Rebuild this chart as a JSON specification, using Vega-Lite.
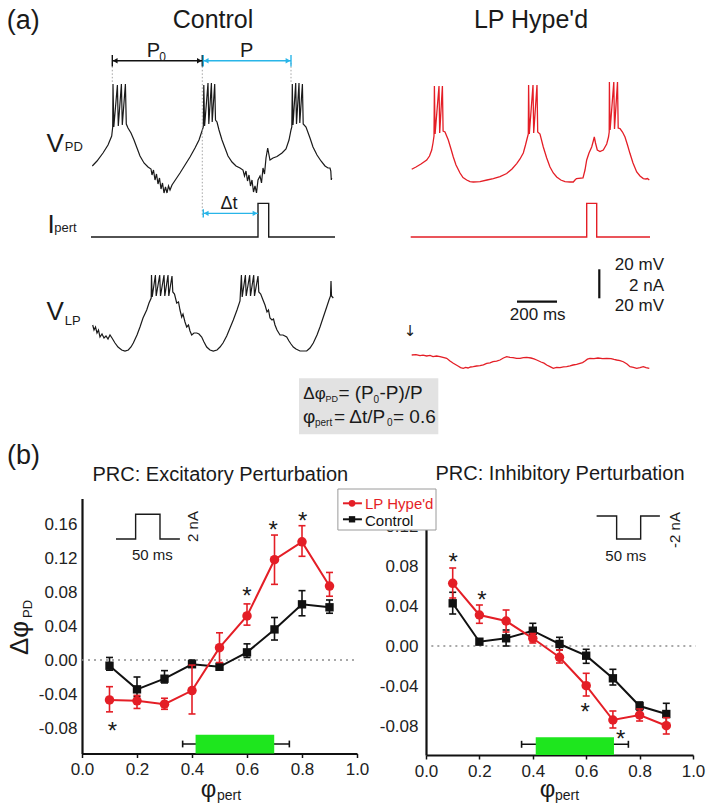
{
"$schema": "https://vega.github.io/schema/vega-lite/v6.json",
"width": 714, "height": 811, "autosize": "none", "padding": 0, "background": "white",
"config": {"view": {"stroke": null}, "locale": {"number": {"decimal": ".", "thousands": ",", "grouping": [3], "currency": ["$", ""], "minus": "-"}}, "text": {"font": "Liberation Sans", "color": "#1a1a1a"}},
"datasets": {
"vpdC": [{"t":1.5,"v":-57.2},{"t":25,"v":-53.7},{"t":55,"v":-48.1},{"t":80,"v":-42.5},{"t":98.5,"v":-36.2},{"t":103.5,"v":-29.9},{"t":105,"v":0.2},{"t":109,"v":-29.9},{"t":127,"v":-0.5},{"t":131.5,"v":-29.2},{"t":147,"v":0.2},{"t":151.5,"v":-28.5},{"t":167,"v":0.2},{"t":171.5,"v":-27.8},{"t":180,"v":-30.6},{"t":195,"v":-34.1},{"t":210,"v":-39},{"t":225,"v":-44.6},{"t":240,"v":-50.2},{"t":260,"v":-55.1},{"t":280,"v":-57.9},{"t":295,"v":-59.3},{"t":300,"v":-63.5},{"t":307.5,"v":-60},{"t":315,"v":-67},{"t":322.5,"v":-62.8},{"t":330,"v":-69.8},{"t":337.5,"v":-65.6},{"t":345,"v":-73.3},{"t":352.5,"v":-69.1},{"t":360,"v":-76.1},{"t":367.5,"v":-71.9},{"t":375,"v":-76.1},{"t":382.5,"v":-71.2},{"t":390,"v":-74},{"t":400,"v":-70.5},{"t":420,"v":-66.3},{"t":440,"v":-62.1},{"t":465,"v":-56.5},{"t":490,"v":-50.9},{"t":515,"v":-44.6},{"t":535,"v":-39},{"t":550,"v":-32.7},{"t":556.5,"v":-29.9},{"t":559,"v":-0.5},{"t":563,"v":-29.2},{"t":580,"v":0.9},{"t":584,"v":-27.8},{"t":597,"v":0.9},{"t":601,"v":-26.4},{"t":613.5,"v":0.2},{"t":617.5,"v":-25},{"t":625,"v":-26.4},{"t":635,"v":-32},{"t":650,"v":-39},{"t":665,"v":-44.6},{"t":680,"v":-50.2},{"t":700,"v":-54.4},{"t":720,"v":-57.2},{"t":740,"v":-58.6},{"t":755,"v":-60},{"t":762.5,"v":-64.2},{"t":770,"v":-60.7},{"t":777.5,"v":-67.7},{"t":785,"v":-63.5},{"t":792.5,"v":-71.2},{"t":800,"v":-67},{"t":807.5,"v":-75.4},{"t":815,"v":-71.2},{"t":822.5,"v":-76.1},{"t":830,"v":-67},{"t":840,"v":-64.2},{"t":847.5,"v":-69.1},{"t":855,"v":-58.6},{"t":862.5,"v":-62.8},{"t":870,"v":-51.6},{"t":878.5,"v":-44.6},{"t":885,"v":-49.5},{"t":890,"v":-53},{"t":905,"v":-51.6},{"t":925,"v":-50.6},{"t":950,"v":-48.1},{"t":970,"v":-45.3},{"t":985,"v":-39},{"t":995,"v":-32},{"t":999,"v":-29.9},{"t":1001.5,"v":0.2},{"t":1005,"v":-28.5},{"t":1018.5,"v":0.9},{"t":1022.5,"v":-27.8},{"t":1035,"v":0.9},{"t":1039,"v":-27.1},{"t":1052,"v":0.2},{"t":1056,"v":-27.8},{"t":1070,"v":-29.9},{"t":1090,"v":-37.6},{"t":1105,"v":-43.9},{"t":1125,"v":-49.5},{"t":1145,"v":-53.7},{"t":1165,"v":-57.2},{"t":1180,"v":-58.6},{"t":1190,"v":-58.6},{"t":1194,"v":-60.7},{"t":1196.5,"v":-67},{"t":1198.5,"v":-65.6}],
"vpdL": [{"t":3.5,"v":-59.5},{"t":25,"v":-57.9},{"t":50,"v":-55.8},{"t":78.5,"v":-53},{"t":92.5,"v":-50.2},{"t":103.5,"v":-46},{"t":110,"v":-41.1},{"t":115,"v":-36.2},{"t":117,"v":-1.2},{"t":120.5,"v":-34.8},{"t":140,"v":-1.2},{"t":143.5,"v":-34.1},{"t":157,"v":-1.2},{"t":160.5,"v":-32.7},{"t":170,"v":-33.4},{"t":186.5,"v":-39},{"t":200,"v":-45.3},{"t":211.5,"v":-50.9},{"t":225,"v":-56.5},{"t":245,"v":-62.1},{"t":260,"v":-65.3},{"t":278.5,"v":-67},{"t":295,"v":-68.1},{"t":311.5,"v":-68.4},{"t":345,"v":-68.1},{"t":380,"v":-67},{"t":411.5,"v":-66},{"t":445,"v":-64.6},{"t":478.5,"v":-62.5},{"t":505,"v":-59.3},{"t":528.5,"v":-55.5},{"t":545,"v":-52.3},{"t":561.5,"v":-48.1},{"t":572.5,"v":-42.5},{"t":580,"v":-38.3},{"t":586.5,"v":-34.8},{"t":588,"v":-0.5},{"t":591.5,"v":-34.8},{"t":610,"v":-0.5},{"t":613.5,"v":-34.1},{"t":630,"v":-0.5},{"t":633.5,"v":-33.4},{"t":645,"v":-34.8},{"t":661.5,"v":-43.9},{"t":678.5,"v":-51.6},{"t":695,"v":-57.9},{"t":711.5,"v":-62.1},{"t":728.5,"v":-64.9},{"t":749,"v":-67},{"t":770,"v":-68.1},{"t":795,"v":-68.4},{"t":811.5,"v":-68.4},{"t":820,"v":-67},{"t":827.5,"v":-66},{"t":860,"v":-65.6},{"t":870,"v":-60},{"t":878.5,"v":-53},{"t":890,"v":-48.1},{"t":903.5,"v":-43.9},{"t":911.5,"v":-39.7},{"t":916.5,"v":-36.9},{"t":922.5,"v":-41.1},{"t":931.5,"v":-46},{"t":945,"v":-47.1},{"t":961.5,"v":-46},{"t":978.5,"v":-41.8},{"t":987.5,"v":-36.9},{"t":991,"v":-33.4},{"t":992,"v":1.6},{"t":995.5,"v":-32},{"t":1014,"v":1.6},{"t":1017.5,"v":-31.3},{"t":1032.5,"v":1.6},{"t":1036,"v":-30.6},{"t":1045,"v":-31},{"t":1057.5,"v":-33.4},{"t":1070,"v":-36.9},{"t":1082.5,"v":-42.5},{"t":1095,"v":-48.5},{"t":1110,"v":-55.1},{"t":1128.5,"v":-61.4},{"t":1145,"v":-64.2},{"t":1161.5,"v":-66},{"t":1175,"v":-66.3},{"t":1182.5,"v":-66},{"t":1191.5,"v":-67}],
"iC": [{"k":1,"t":-5,"i":0},{"k":2,"t":830,"i":0},{"k":3,"t":830,"i":2.32},{"k":4,"t":883.5,"i":2.32},{"k":5,"t":883.5,"i":0},{"k":6,"t":1215,"i":0}],
"iL": [{"k":1,"t":-1.5,"i":0},{"k":2,"t":878.5,"i":0},{"k":3,"t":878.5,"i":2.32},{"k":4,"t":928.5,"i":2.32},{"k":5,"t":928.5,"i":0},{"k":6,"t":1195,"i":0}],
"vlpC": [{"t":3.5,"v":-49.5},{"t":10,"v":-53},{"t":17.5,"v":-50.9},{"t":25,"v":-55.1},{"t":32.5,"v":-53},{"t":40,"v":-57.9},{"t":50,"v":-55.8},{"t":60,"v":-58.6},{"t":70,"v":-57.2},{"t":80,"v":-59.3},{"t":90,"v":-56.5},{"t":100,"v":-58.6},{"t":115,"v":-62.1},{"t":130,"v":-64.9},{"t":148.5,"v":-67},{"t":165,"v":-67.7},{"t":181.5,"v":-67},{"t":195,"v":-64.9},{"t":206.5,"v":-62.1},{"t":225,"v":-56.5},{"t":240,"v":-50.9},{"t":255,"v":-44.6},{"t":273.5,"v":-39},{"t":285,"v":-34.1},{"t":296,"v":-30.6},{"t":297.5,"v":-14.5},{"t":301,"v":-29.9},{"t":317,"v":-14.5},{"t":321,"v":-29.2},{"t":338.5,"v":-14.5},{"t":342.5,"v":-29.2},{"t":360,"v":-14.5},{"t":364,"v":-29.2},{"t":380,"v":-14.5},{"t":384,"v":-29.2},{"t":400,"v":-15.2},{"t":404,"v":-26.4},{"t":412.5,"v":-27.8},{"t":423.5,"v":-34.1},{"t":432.5,"v":-33.4},{"t":440,"v":-39},{"t":448.5,"v":-43.9},{"t":455,"v":-41.8},{"t":465,"v":-47.4},{"t":473.5,"v":-50.9},{"t":482.5,"v":-49.5},{"t":490,"v":-53.7},{"t":498.5,"v":-56.5},{"t":510,"v":-55.1},{"t":523.5,"v":-55.1},{"t":535,"v":-55.8},{"t":548.5,"v":-57.9},{"t":560,"v":-61.4},{"t":573.5,"v":-64.9},{"t":590,"v":-67},{"t":606.5,"v":-67.7},{"t":625,"v":-67},{"t":640,"v":-64.9},{"t":655,"v":-62.1},{"t":673.5,"v":-57.2},{"t":690,"v":-51.6},{"t":706.5,"v":-46},{"t":725,"v":-39},{"t":740,"v":-32.7},{"t":747,"v":-14.5},{"t":751,"v":-29.9},{"t":767,"v":-14.5},{"t":771,"v":-29.2},{"t":788.5,"v":-14.5},{"t":792.5,"v":-29.2},{"t":808.5,"v":-14.5},{"t":812.5,"v":-29.2},{"t":830,"v":-15.2},{"t":834,"v":-26.4},{"t":843.5,"v":-27.8},{"t":855,"v":-32},{"t":865,"v":-35.5},{"t":875,"v":-40.4},{"t":882.5,"v":-39},{"t":890,"v":-44.6},{"t":900,"v":-46},{"t":907.5,"v":-45.3},{"t":915,"v":-49.5},{"t":925,"v":-53},{"t":940,"v":-56.5},{"t":955,"v":-56.5},{"t":973.5,"v":-57.9},{"t":985,"v":-60.7},{"t":995,"v":-62.8},{"t":1006.5,"v":-64.9},{"t":1020,"v":-66.3},{"t":1040,"v":-67.7},{"t":1073.5,"v":-67.7},{"t":1090,"v":-65.6},{"t":1106.5,"v":-62.1},{"t":1125,"v":-56.5},{"t":1140,"v":-50.9},{"t":1155,"v":-44.6},{"t":1173.5,"v":-36.9},{"t":1185,"v":-32},{"t":1192.5,"v":-29.2},{"t":1195,"v":-18.7},{"t":1197.5,"v":-29.2},{"t":1206.5,"v":-30.6}],
"vlpL": [{"t":3.5,"v":-70.5},{"t":25,"v":-70.2},{"t":45,"v":-70.9},{"t":60,"v":-70.6},{"t":78.5,"v":-71.2},{"t":95,"v":-70.8},{"t":110,"v":-71.6},{"t":128,"v":-71.2},{"t":145,"v":-71.7},{"t":160,"v":-72.2},{"t":178.5,"v":-72.8},{"t":195,"v":-74.7},{"t":211.5,"v":-76.3},{"t":235,"v":-78.2},{"t":248,"v":-79.3},{"t":261.5,"v":-79.8},{"t":273,"v":-79.2},{"t":285,"v":-79.6},{"t":298,"v":-78.9},{"t":311.5,"v":-78.7},{"t":328,"v":-78.2},{"t":345,"v":-77.9},{"t":362,"v":-77.4},{"t":378.5,"v":-76.3},{"t":395,"v":-76},{"t":410,"v":-75.1},{"t":428,"v":-74.8},{"t":445,"v":-74},{"t":462,"v":-72.6},{"t":478.5,"v":-71.7},{"t":495,"v":-72.2},{"t":510,"v":-72.3},{"t":528,"v":-72.9},{"t":545,"v":-72.8},{"t":562,"v":-72.4},{"t":578.5,"v":-72.1},{"t":600,"v":-72.6},{"t":615,"v":-73.2},{"t":628.5,"v":-74},{"t":650,"v":-75.4},{"t":665,"v":-76.2},{"t":678.5,"v":-77.5},{"t":695,"v":-78.6},{"t":711.5,"v":-79.8},{"t":728,"v":-79.2},{"t":745,"v":-79.3},{"t":762,"v":-78.8},{"t":778.5,"v":-78.7},{"t":795,"v":-78.1},{"t":810,"v":-77.5},{"t":828,"v":-77},{"t":845,"v":-76.3},{"t":858,"v":-75.8},{"t":870,"v":-74.7},{"t":882,"v":-73.4},{"t":895,"v":-72.8},{"t":915,"v":-73.1},{"t":935,"v":-72.6},{"t":958,"v":-73.1},{"t":978.5,"v":-72.8},{"t":1000,"v":-73},{"t":1015,"v":-73.6},{"t":1028.5,"v":-74},{"t":1045,"v":-74.4},{"t":1061.5,"v":-75.2},{"t":1080,"v":-76.8},{"t":1095,"v":-78.7},{"t":1112,"v":-79.1},{"t":1128.5,"v":-79.8},{"t":1145,"v":-79.3},{"t":1161.5,"v":-78.7},{"t":1175,"v":-79.3},{"t":1191.5,"v":-79.8}],
"exc": [{"g":"LP","phi":0.1,"d":-0.047},{"g":"LP","phi":0.2,"d":-0.048},{"g":"LP","phi":0.3,"d":-0.052},{"g":"LP","phi":0.4,"d":-0.036},{"g":"LP","phi":0.5,"d":0.0145},{"g":"LP","phi":0.6,"d":0.0518},{"g":"LP","phi":0.7,"d":0.118},{"g":"LP","phi":0.8,"d":0.139},{"g":"LP","phi":0.9,"d":0.087},
{"g":"C","phi":0.1,"d":-0.0067},{"g":"C","phi":0.2,"d":-0.0345},{"g":"C","phi":0.3,"d":-0.022},{"g":"C","phi":0.4,"d":-0.005},{"g":"C","phi":0.5,"d":-0.008},{"g":"C","phi":0.6,"d":0.009},{"g":"C","phi":0.7,"d":0.036},{"g":"C","phi":0.8,"d":0.0655},{"g":"C","phi":0.9,"d":0.062}],
"excErr": [{"g":"LP","id":1,"phi":0.1,"d":-0.061},{"g":"LP","id":1,"phi":0.1,"d":-0.0314},{"g":"LP","id":2,"phi":0.2,"d":-0.057},{"g":"LP","id":2,"phi":0.2,"d":-0.0416},{"g":"LP","id":3,"phi":0.3,"d":-0.058},{"g":"LP","id":3,"phi":0.3,"d":-0.045},{"g":"LP","id":4,"phi":0.4,"d":-0.0635},{"g":"LP","id":4,"phi":0.4,"d":-0.006},{"g":"LP","id":5,"phi":0.5,"d":-0.003},{"g":"LP","id":5,"phi":0.5,"d":0.032},{"g":"LP","id":6,"phi":0.6,"d":0.041},{"g":"LP","id":6,"phi":0.6,"d":0.066},{"g":"LP","id":7,"phi":0.7,"d":0.089},{"g":"LP","id":7,"phi":0.7,"d":0.147},{"g":"LP","id":8,"phi":0.8,"d":0.122},{"g":"LP","id":8,"phi":0.8,"d":0.158},{"g":"LP","id":9,"phi":0.9,"d":0.075},{"g":"LP","id":9,"phi":0.9,"d":0.103},
{"g":"C","id":11,"phi":0.1,"d":-0.012},{"g":"C","id":11,"phi":0.1,"d":0.003},{"g":"C","id":12,"phi":0.2,"d":-0.043},{"g":"C","id":12,"phi":0.2,"d":-0.02},{"g":"C","id":13,"phi":0.3,"d":-0.027},{"g":"C","id":13,"phi":0.3,"d":-0.0125},{"g":"C","id":14,"phi":0.4,"d":-0.008},{"g":"C","id":14,"phi":0.4,"d":0.0},{"g":"C","id":15,"phi":0.5,"d":-0.011},{"g":"C","id":15,"phi":0.5,"d":-0.005},{"g":"C","id":16,"phi":0.6,"d":0.003},{"g":"C","id":16,"phi":0.6,"d":0.019},{"g":"C","id":17,"phi":0.7,"d":0.0235},{"g":"C","id":17,"phi":0.7,"d":0.05},{"g":"C","id":18,"phi":0.8,"d":0.052},{"g":"C","id":18,"phi":0.8,"d":0.0816},{"g":"C","id":19,"phi":0.9,"d":0.055},{"g":"C","id":19,"phi":0.9,"d":0.0706}],
"inh": [{"g":"LP","phi":0.1,"d":0.0627},{"g":"LP","phi":0.2,"d":0.031},{"g":"LP","phi":0.3,"d":0.025},{"g":"LP","phi":0.4,"d":0.0077},{"g":"LP","phi":0.5,"d":-0.0113},{"g":"LP","phi":0.6,"d":-0.0397},{"g":"LP","phi":0.7,"d":-0.074},{"g":"LP","phi":0.8,"d":-0.069},{"g":"LP","phi":0.9,"d":-0.0797},
{"g":"C","phi":0.1,"d":0.0427},{"g":"C","phi":0.2,"d":0.0043},{"g":"C","phi":0.3,"d":0.0077},{"g":"C","phi":0.4,"d":0.0153},{"g":"C","phi":0.5,"d":0.002},{"g":"C","phi":0.6,"d":-0.0097},{"g":"C","phi":0.7,"d":-0.0323},{"g":"C","phi":0.8,"d":-0.06},{"g":"C","phi":0.9,"d":-0.068}],
"inhErr": [{"g":"LP","id":1,"phi":0.1,"d":0.048},{"g":"LP","id":1,"phi":0.1,"d":0.078},{"g":"LP","id":2,"phi":0.2,"d":0.0227},{"g":"LP","id":2,"phi":0.2,"d":0.041},{"g":"LP","id":3,"phi":0.3,"d":0.014},{"g":"LP","id":3,"phi":0.3,"d":0.036},{"g":"LP","id":4,"phi":0.4,"d":0.003},{"g":"LP","id":4,"phi":0.4,"d":0.0125},{"g":"LP","id":5,"phi":0.5,"d":-0.017},{"g":"LP","id":5,"phi":0.5,"d":-0.004},{"g":"LP","id":6,"phi":0.6,"d":-0.05},{"g":"LP","id":6,"phi":0.6,"d":-0.0273},{"g":"LP","id":7,"phi":0.7,"d":-0.082},{"g":"LP","id":7,"phi":0.7,"d":-0.065},{"g":"LP","id":8,"phi":0.8,"d":-0.075},{"g":"LP","id":8,"phi":0.8,"d":-0.063},{"g":"LP","id":9,"phi":0.9,"d":-0.088},{"g":"LP","id":9,"phi":0.9,"d":-0.0717},
{"g":"C","id":11,"phi":0.1,"d":0.032},{"g":"C","id":11,"phi":0.1,"d":0.0537},{"g":"C","id":12,"phi":0.2,"d":0.002},{"g":"C","id":12,"phi":0.2,"d":0.0065},{"g":"C","id":13,"phi":0.3,"d":0.0},{"g":"C","id":13,"phi":0.3,"d":0.016},{"g":"C","id":14,"phi":0.4,"d":0.0077},{"g":"C","id":14,"phi":0.4,"d":0.0227},{"g":"C","id":15,"phi":0.5,"d":-0.004},{"g":"C","id":15,"phi":0.5,"d":0.0087},{"g":"C","id":16,"phi":0.6,"d":-0.0173},{"g":"C","id":16,"phi":0.6,"d":-0.0033},{"g":"C","id":17,"phi":0.7,"d":-0.039},{"g":"C","id":17,"phi":0.7,"d":-0.0233},{"g":"C","id":18,"phi":0.8,"d":-0.064},{"g":"C","id":18,"phi":0.8,"d":-0.056},{"g":"C","id":19,"phi":0.9,"d":-0.079},{"g":"C","id":19,"phi":0.9,"d":-0.0573}]
},
"layer": [
{
"encoding": {
"x": {"field":"t","type":"quantitative","scale":{"domain":[0,1500],"range":[92,392],"zero":false,"nice":false},"axis":null},
"y": {"field":"v","type":"quantitative","scale":{"domain":[-80,10],"range":[198.57,70],"zero":false,"nice":false},"axis":null}
},
"layer": [
{"data":{"name":"vpdC"},"mark":{"type":"line","color":"#1a1a1a","strokeWidth":1.2},"encoding":{}},
{"data":{"values":[{"t":101.5,"t2":101.5,"v":15,"v2":1},{"t":551.5,"t2":551.5,"v":15,"v2":-93},{"t":995,"t2":995,"v":15,"v2":1}]},"mark":{"type":"rule","color":"#9a9a9a","strokeWidth":0.9,"strokeDash":[1.5,2]},"encoding":{"x2":{"field":"t2"},"y2":{"field":"v2"}}},
{"data":{"values":[{"t":101.5,"t2":551.5,"v":16.5,"v2":16.5},{"t":101.5,"t2":101.5,"v":20.5,"v2":12.5},{"t":551.5,"t2":551.5,"v":20.5,"v2":12.5}]},"mark":{"type":"rule","color":"#111111","strokeWidth":1.4},"encoding":{"x2":{"field":"t2"},"y2":{"field":"v2"}}},
{"data":{"values":[{"t":556.5,"t2":995,"v":16.5,"v2":16.5},{"t":556.5,"t2":556.5,"v":20.5,"v2":12.5},{"t":995,"t2":995,"v":20.5,"v2":12.5}]},"mark":{"type":"rule","color":"#29b5e8","strokeWidth":1.4},"encoding":{"x2":{"field":"t2"},"y2":{"field":"v2"}}},
{"data":{"values":[{"t":116,"v":16.5}]},"mark":{"type":"point","shape":"triangle-left","filled":true,"size":30,"color":"#111111","opacity":1},"encoding":{}},
{"data":{"values":[{"t":537,"v":16.5}]},"mark":{"type":"point","shape":"triangle-right","filled":true,"size":30,"color":"#111111","opacity":1},"encoding":{}},
{"data":{"values":[{"t":571,"v":16.5}]},"mark":{"type":"point","shape":"triangle-left","filled":true,"size":30,"color":"#29b5e8","opacity":1},"encoding":{}},
{"data":{"values":[{"t":980,"v":16.5}]},"mark":{"type":"point","shape":"triangle-right","filled":true,"size":30,"color":"#29b5e8","opacity":1},"encoding":{}},
{"data":{"values":[{"t":-426.5,"v":38.5,"s":"(a)"}]},"mark":{"type":"text","fontSize":27,"align":"left","baseline":"alphabetic"},"encoding":{"text":{"field":"s"}}},
{"data":{"values":[{"t":605,"v":39.4,"s":"Control"}]},"mark":{"type":"text","fontSize":25,"align":"center","baseline":"alphabetic"},"encoding":{"text":{"field":"s"}}},
{"data":{"values":[{"t":273.5,"v":19.3,"s":"P"},{"t":740,"v":19.3,"s":"P"}]},"mark":{"type":"text","fontSize":20,"align":"left","baseline":"alphabetic"},"encoding":{"text":{"field":"s"}}},
{"data":{"values":[{"t":336.5,"v":16.3,"s":"0"}]},"mark":{"type":"text","fontSize":12,"align":"left","baseline":"alphabetic"},"encoding":{"text":{"field":"s"}}},
{"data":{"values":[{"t":-228,"v":-47.2,"s":"V"}]},"mark":{"type":"text","fontSize":26,"align":"left","baseline":"alphabetic"},"encoding":{"text":{"field":"s"}}},
{"data":{"values":[{"t":-136,"v":-46.7,"s":"PD"}]},"mark":{"type":"text","fontSize":13,"align":"left","baseline":"alphabetic"},"encoding":{"text":{"field":"s"}}}
]
},
{
"encoding": {
"x": {"field":"t","type":"quantitative","scale":{"domain":[0,1500],"range":[411,711],"zero":false,"nice":false},"axis":null},
"y": {"field":"v","type":"quantitative","scale":{"domain":[-80,10],"range":[198.57,70],"zero":false,"nice":false},"axis":null}
},
"layer": [
{"data":{"name":"vpdL"},"mark":{"type":"line","color":"#e41e26","strokeWidth":1.3},"encoding":{}},
{"data":{"values":[{"t":600,"v":39.2,"s":"LP Hype'd"}]},"mark":{"type":"text","fontSize":25,"align":"center","baseline":"alphabetic"},"encoding":{"text":{"field":"s"}}}
]
},
{
"encoding": {
"x": {"field":"t","type":"quantitative","scale":{"domain":[0,1500],"range":[92,392],"zero":false,"nice":false},"axis":null},
"y": {"field":"i","type":"quantitative","scale":{"domain":[0,2],"range":[237,208],"zero":false,"nice":false},"axis":null}
},
"layer": [
{"data":{"name":"iC"},"mark":{"type":"line","color":"#1a1a1a","strokeWidth":1.4},"encoding":{"order":{"field":"k","type":"quantitative"}}},
{"data":{"values":[{"t":556.5,"t2":830,"i":1.63,"i2":1.63},{"t":556.5,"t2":556.5,"i":1.35,"i2":1.91}]},"mark":{"type":"rule","color":"#29b5e8","strokeWidth":1.4},"encoding":{"x2":{"field":"t2"},"y2":{"field":"i2"}}},
{"data":{"values":[{"t":571,"i":1.63}]},"mark":{"type":"point","shape":"triangle-left","filled":true,"size":30,"color":"#29b5e8","opacity":1},"encoding":{}},
{"data":{"values":[{"t":815,"i":1.63}]},"mark":{"type":"point","shape":"triangle-right","filled":true,"size":30,"color":"#29b5e8","opacity":1},"encoding":{}},
{"data":{"values":[{"t":685,"i":1.91,"s":"Δt"}]},"mark":{"type":"text","fontSize":18,"align":"center","baseline":"alphabetic"},"encoding":{"text":{"field":"s"}}},
{"data":{"values":[{"t":-222,"i":0.255,"s":"I"}]},"mark":{"type":"text","fontSize":26,"align":"left","baseline":"alphabetic"},"encoding":{"text":{"field":"s"}}},
{"data":{"values":[{"t":-188.5,"i":0.345,"s":"pert"}]},"mark":{"type":"text","fontSize":13,"align":"left","baseline":"alphabetic"},"encoding":{"text":{"field":"s"}}}
]
},
{
"encoding": {
"x": {"field":"t","type":"quantitative","scale":{"domain":[0,1500],"range":[411,711],"zero":false,"nice":false},"axis":null},
"y": {"field":"i","type":"quantitative","scale":{"domain":[0,2],"range":[237,208],"zero":false,"nice":false},"axis":null}
},
"layer": [
{"data":{"name":"iL"},"mark":{"type":"line","color":"#e41e26","strokeWidth":1.4},"encoding":{"order":{"field":"k","type":"quantitative"}}}
]
},
{
"encoding": {
"x": {"field":"t","type":"quantitative","scale":{"domain":[0,1500],"range":[92,392],"zero":false,"nice":false},"axis":null},
"y": {"field":"v","type":"quantitative","scale":{"domain":[-90,0],"range":[382.86,254.29],"zero":false,"nice":false},"axis":null}
},
"layer": [
{"data":{"name":"vlpC"},"mark":{"type":"line","color":"#1a1a1a","strokeWidth":1.2},"encoding":{}},
{"data":{"values":[{"t":-228,"v":-46,"s":"V"}]},"mark":{"type":"text","fontSize":26,"align":"left","baseline":"alphabetic"},"encoding":{"text":{"field":"s"}}},
{"data":{"values":[{"t":-136,"v":-49.5,"s":"LP"}]},"mark":{"type":"text","fontSize":13,"align":"left","baseline":"alphabetic"},"encoding":{"text":{"field":"s"}}},
{"data":{"values":[{"t":1035,"t2":1731.5,"v":-86.8,"v2":-126}]},"mark":{"type":"rect","color":"#e2e2e2"},"encoding":{"x2":{"field":"t2"},"y2":{"field":"v2"}}},
{"data":{"values":[{"t":1056.5,"v":-101.5,"s":"Δφ"}]},"mark":{"type":"text","fontSize":17,"align":"left","baseline":"alphabetic"},"encoding":{"text":{"field":"s"}}},
{"data":{"values":[{"t":1232,"v":-101.5,"s":"= (P"},{"t":1437.5,"v":-101.5,"s":"-P)/P"},{"t":1055,"v":-117.9,"s":"φ"},{"t":1210,"v":-117.9,"s":"= Δt/P"},{"t":1505,"v":-117.9,"s":"= 0.6"}]},"mark":{"type":"text","fontSize":19,"align":"left","baseline":"alphabetic"},"encoding":{"text":{"field":"s"}}},
{"data":{"values":[{"t":1168,"v":-103.4,"s":"PD"}]},"mark":{"type":"text","fontSize":9,"align":"left","baseline":"alphabetic"},"encoding":{"text":{"field":"s"}}},
{"data":{"values":[{"t":1407.5,"v":-104.1,"s":"0"},{"t":1115,"v":-119.9,"s":"pert"},{"t":1475,"v":-119.9,"s":"0"}]},"mark":{"type":"text","fontSize":10,"align":"left","baseline":"alphabetic"},"encoding":{"text":{"field":"s"}}}
]
},
{
"encoding": {
"x": {"field":"t","type":"quantitative","scale":{"domain":[0,1500],"range":[411,711],"zero":false,"nice":false},"axis":null},
"y": {"field":"v","type":"quantitative","scale":{"domain":[-90,0],"range":[382.86,254.29],"zero":false,"nice":false},"axis":null}
},
"layer": [
{"data":{"name":"vlpL"},"mark":{"type":"line","color":"#e41e26","strokeWidth":1.3},"encoding":{}},
{"data":{"values":[{"t":941.5,"t2":941.5,"v":-10.5,"v2":-30.8},{"t":530,"t2":730,"v":-33.2,"v2":-33.2}]},"mark":{"type":"rule","color":"#111111","strokeWidth":2.2},"encoding":{"x2":{"field":"t2"},"y2":{"field":"v2"}}},
{"data":{"values":[{"t":1265,"v":-11,"s":"20 mV"},{"t":1265,"v":-25.5,"s":"2 nA"},{"t":1265,"v":-39.7,"s":"20 mV"}]},"mark":{"type":"text","fontSize":17,"align":"right","baseline":"alphabetic"},"encoding":{"text":{"field":"s"}}},
{"data":{"values":[{"t":633.5,"v":-46,"s":"200 ms"}]},"mark":{"type":"text","fontSize":17,"align":"center","baseline":"alphabetic"},"encoding":{"text":{"field":"s"}}},
{"data":{"values":[{"t":-5,"v":-57.2,"s":"↓"}]},"mark":{"type":"text","fontSize":15,"font":"DejaVu Sans","align":"center","baseline":"alphabetic"},"encoding":{"text":{"field":"s"}}}
]
},
{
"encoding": {
"x": {"field":"phi","type":"quantitative","scale":{"domain":[0,1],"range":[82,357],"zero":false,"nice":false},
 "axis":{"orient":"bottom","offset":-57.5,"values":[0,0.2,0.4,0.6,0.8,1],"format":".1f","title":null,"grid":false,"domainColor":"#111111","domainWidth":2.2,"tickColor":"#111111","tickSize":4,"tickWidth":1.5,"labelFont":"Liberation Sans","labelFontSize":17,"labelColor":"#222222","labelPadding":4,"labelFlush":false,"labelOverlap":false}},
"y": {"field":"d","type":"quantitative","scale":{"domain":[-0.11,0.19],"range":[753.5,498.5],"zero":false,"nice":false},
 "axis":{"orient":"left","offset":-82,"values":[-0.08,-0.04,0,0.04,0.08,0.12,0.16],"format":".2f","title":null,"grid":false,"domainColor":"#111111","domainWidth":2.2,"ticks":false,"labelFont":"Liberation Sans","labelFontSize":17,"labelColor":"#222222","labelPadding":5,"labelOverlap":false}}
},
"layer": [
{"data":{"values":[{"phi":0,"phi2":1,"d":0}]},"mark":{"type":"rule","color":"#8c8c8c","strokeWidth":1.4,"strokeDash":[2,4]},"encoding":{"x2":{"field":"phi2"}}},
{"data":{"values":[{"phi":0.366,"phi2":0.754,"d":-0.0988,"d2":-0.0988},{"phi":0.366,"phi2":0.366,"d":-0.1028,"d2":-0.0948},{"phi":0.754,"phi2":0.754,"d":-0.1028,"d2":-0.0948}]},"mark":{"type":"rule","color":"#111111","strokeWidth":1.6},"encoding":{"x2":{"field":"phi2"},"y2":{"field":"d2"}}},
{"data":{"values":[{"phi":0.413,"phi2":0.699,"d":-0.11,"d2":-0.088}]},"mark":{"type":"rect","color":"#1ee61e"},"encoding":{"x2":{"field":"phi2"},"y2":{"field":"d2"}}},
{"data":{"name":"exc"},"transform":[{"filter":"datum.g==='C'"}],"mark":{"type":"line","color":"#111111","strokeWidth":2},"encoding":{}},
{"data":{"name":"excErr"},"transform":[{"filter":"datum.g==='C'"}],"mark":{"type":"line","color":"#111111","strokeWidth":1.6},"encoding":{"detail":{"field":"id","type":"nominal"}}},
{"data":{"name":"excErr"},"transform":[{"filter":"datum.g==='C'"}],"mark":{"type":"point","shape":"stroke","size":49,"strokeWidth":1.6,"color":"#111111","filled":false,"opacity":1},"encoding":{}},
{"data":{"name":"exc"},"transform":[{"filter":"datum.g==='C'"}],"mark":{"type":"point","shape":"square","size":70,"color":"#111111","filled":true,"opacity":1},"encoding":{}},
{"data":{"name":"exc"},"transform":[{"filter":"datum.g==='LP'"}],"mark":{"type":"line","color":"#e41e26","strokeWidth":2},"encoding":{}},
{"data":{"name":"excErr"},"transform":[{"filter":"datum.g==='LP'"}],"mark":{"type":"line","color":"#e41e26","strokeWidth":1.6},"encoding":{"detail":{"field":"id","type":"nominal"}}},
{"data":{"name":"excErr"},"transform":[{"filter":"datum.g==='LP'"}],"mark":{"type":"point","shape":"stroke","size":49,"strokeWidth":1.6,"color":"#e41e26","filled":false,"opacity":1},"encoding":{}},
{"data":{"name":"exc"},"transform":[{"filter":"datum.g==='LP'"}],"mark":{"type":"point","shape":"circle","size":90,"color":"#e41e26","filled":true,"opacity":1},"encoding":{}},
{"data":{"values":[{"phi":0.111,"d":-0.0926},{"phi":0.6,"d":0.0662},{"phi":0.695,"d":0.1439},{"phi":0.802,"d":0.1545}]},"mark":{"type":"text","text":"*","fontSize":24,"align":"center","baseline":"alphabetic"},"encoding":{}},
{"data":{"values":[{"k":1,"phi":0.1236,"d":0.1424},{"k":2,"phi":0.195,"d":0.1424},{"k":3,"phi":0.195,"d":0.1714},{"k":4,"phi":0.2836,"d":0.1714},{"k":5,"phi":0.2836,"d":0.1424},{"k":6,"phi":0.356,"d":0.1424}]},"mark":{"type":"line","color":"#1a1a1a","strokeWidth":1.4},"encoding":{"order":{"field":"k","type":"quantitative"}}},
{"data":{"values":[{"phi":0.256,"d":0.1176,"s":"50 ms"}]},"mark":{"type":"text","fontSize":15,"align":"center","baseline":"alphabetic"},"encoding":{"text":{"field":"s"}}},
{"data":{"values":[{"phi":0.422,"d":0.157,"s":"2 nA"}]},"mark":{"type":"text","fontSize":15,"angle":270,"align":"center","baseline":"alphabetic"},"encoding":{"text":{"field":"s"}}},
{"data":{"values":[{"phi":0.503,"d":0.2106,"s":"PRC: Excitatory Perturbation"}]},"mark":{"type":"text","fontSize":20,"align":"center","baseline":"alphabetic"},"encoding":{"text":{"field":"s"}}},
{"data":{"values":[{"phi":-0.273,"d":0.2302,"s":"(b)"}]},"mark":{"type":"text","fontSize":27,"align":"left","baseline":"alphabetic"},"encoding":{"text":{"field":"s"}}},
{"data":{"values":[{"phi":-0.196,"d":0.0259,"s":"Δφ"}]},"mark":{"type":"text","fontSize":26,"angle":270,"align":"center","baseline":"alphabetic"},"encoding":{"text":{"field":"s"}}},
{"data":{"values":[{"phi":-0.182,"d":0.06,"s":"PD"}]},"mark":{"type":"text","fontSize":13,"angle":270,"align":"center","baseline":"alphabetic"},"encoding":{"text":{"field":"s"}}},
{"data":{"values":[{"phi":0.46,"d":-0.161,"s":"φ"}]},"mark":{"type":"text","fontSize":24,"align":"center","baseline":"alphabetic"},"encoding":{"text":{"field":"s"}}},
{"data":{"values":[{"phi":0.491,"d":-0.165,"s":"pert"}]},"mark":{"type":"text","fontSize":14,"align":"left","baseline":"alphabetic"},"encoding":{"text":{"field":"s"}}}
]
},
{
"encoding": {
"x": {"field":"phi","type":"quantitative","scale":{"domain":[0,1],"range":[426,693],"zero":false,"nice":false},
 "axis":{"orient":"bottom","offset":-56,"values":[0,0.2,0.4,0.6,0.8,1],"format":".1f","title":null,"grid":false,"domainColor":"#111111","domainWidth":2.2,"tickColor":"#111111","tickSize":4,"tickWidth":1.5,"labelFont":"Liberation Sans","labelFontSize":17,"labelColor":"#222222","labelPadding":4,"labelFlush":false,"labelOverlap":false}},
"y": {"field":"d","type":"quantitative","scale":{"domain":[-0.109,0.14],"range":[755,506],"zero":false,"nice":false},
 "axis":{"orient":"left","offset":-426,"values":[-0.08,-0.04,0,0.04,0.08,0.12],"format":".2f","title":null,"grid":false,"domainColor":"#111111","domainWidth":2.2,"ticks":false,"labelFont":"Liberation Sans","labelFontSize":17,"labelColor":"#222222","labelPadding":8,"labelOverlap":false}}
},
"layer": [
{"data":{"values":[{"phi":0.02,"phi2":1.01,"d":0}]},"mark":{"type":"rule","color":"#8c8c8c","strokeWidth":1.4,"strokeDash":[2,4]},"encoding":{"x2":{"field":"phi2"}}},
{"data":{"values":[{"phi":0.358,"phi2":0.758,"d":-0.0983,"d2":-0.0983},{"phi":0.358,"phi2":0.358,"d":-0.1018,"d2":-0.0948},{"phi":0.758,"phi2":0.758,"d":-0.1018,"d2":-0.0948}]},"mark":{"type":"rule","color":"#111111","strokeWidth":1.6},"encoding":{"x2":{"field":"phi2"},"y2":{"field":"d2"}}},
{"data":{"values":[{"phi":0.411,"phi2":0.704,"d":-0.109,"d2":-0.0913}]},"mark":{"type":"rect","color":"#1ee61e"},"encoding":{"x2":{"field":"phi2"},"y2":{"field":"d2"}}},
{"data":{"name":"inh"},"transform":[{"filter":"datum.g==='C'"}],"mark":{"type":"line","color":"#111111","strokeWidth":2},"encoding":{}},
{"data":{"name":"inhErr"},"transform":[{"filter":"datum.g==='C'"}],"mark":{"type":"line","color":"#111111","strokeWidth":1.6},"encoding":{"detail":{"field":"id","type":"nominal"}}},
{"data":{"name":"inhErr"},"transform":[{"filter":"datum.g==='C'"}],"mark":{"type":"point","shape":"stroke","size":49,"strokeWidth":1.6,"color":"#111111","filled":false,"opacity":1},"encoding":{}},
{"data":{"name":"inh"},"transform":[{"filter":"datum.g==='C'"}],"mark":{"type":"point","shape":"square","size":70,"color":"#111111","filled":true,"opacity":1},"encoding":{}},
{"data":{"name":"inh"},"transform":[{"filter":"datum.g==='LP'"}],"mark":{"type":"line","color":"#e41e26","strokeWidth":2},"encoding":{}},
{"data":{"name":"inhErr"},"transform":[{"filter":"datum.g==='LP'"}],"mark":{"type":"line","color":"#e41e26","strokeWidth":1.6},"encoding":{"detail":{"field":"id","type":"nominal"}}},
{"data":{"name":"inhErr"},"transform":[{"filter":"datum.g==='LP'"}],"mark":{"type":"point","shape":"stroke","size":49,"strokeWidth":1.6,"color":"#e41e26","filled":false,"opacity":1},"encoding":{}},
{"data":{"name":"inh"},"transform":[{"filter":"datum.g==='LP'"}],"mark":{"type":"point","shape":"circle","size":90,"color":"#e41e26","filled":true,"opacity":1},"encoding":{}},
{"data":{"values":[{"phi":0.102,"d":0.0763},{"phi":0.209,"d":0.0383},{"phi":0.596,"d":-0.0737},{"phi":0.729,"d":-0.101}]},"mark":{"type":"text","text":"*","fontSize":24,"align":"center","baseline":"alphabetic"},"encoding":{}},
{"data":{"values":[{"k":1,"phi":0.639,"d":0.13},{"k":2,"phi":0.714,"d":0.13},{"k":3,"phi":0.714,"d":0.107},{"k":4,"phi":0.804,"d":0.107},{"k":5,"phi":0.804,"d":0.13},{"k":6,"phi":0.876,"d":0.13}]},"mark":{"type":"line","color":"#1a1a1a","strokeWidth":1.4},"encoding":{"order":{"field":"k","type":"quantitative"}}},
{"data":{"values":[{"phi":0.748,"d":0.0853,"s":"50 ms"}]},"mark":{"type":"text","fontSize":15,"align":"center","baseline":"alphabetic"},"encoding":{"text":{"field":"s"}}},
{"data":{"values":[{"phi":0.951,"d":0.116,"s":"-2 nA"}]},"mark":{"type":"text","fontSize":15,"angle":270,"align":"center","baseline":"alphabetic"},"encoding":{"text":{"field":"s"}}},
{"data":{"values":[{"phi":0.502,"d":0.166,"s":"PRC: Inhibitory Perturbation"}]},"mark":{"type":"text","fontSize":20,"align":"center","baseline":"alphabetic"},"encoding":{"text":{"field":"s"}}},
{"data":{"values":[{"phi":0.455,"d":-0.151,"s":"φ"}]},"mark":{"type":"text","fontSize":24,"align":"center","baseline":"alphabetic"},"encoding":{"text":{"field":"s"}}},
{"data":{"values":[{"phi":0.483,"d":-0.154,"s":"pert"}]},"mark":{"type":"text","fontSize":14,"align":"left","baseline":"alphabetic"},"encoding":{"text":{"field":"s"}}},
{"data":{"values":[{"phi":-0.33,"phi2":0.0375,"d":0.157,"d2":0.116}]},"mark":{"type":"rect","fill":"#ffffff","stroke":"#9a9a9a","strokeWidth":1},"encoding":{"x2":{"field":"phi2"},"y2":{"field":"d2"}}},
{"data":{"values":[{"phi":-0.311,"phi2":-0.24,"d":0.1427}]},"mark":{"type":"rule","color":"#e41e26","strokeWidth":2},"encoding":{"x2":{"field":"phi2"}}},
{"data":{"values":[{"phi":-0.277,"d":0.1427}]},"mark":{"type":"point","shape":"circle","size":45,"color":"#e41e26","filled":true,"opacity":1},"encoding":{}},
{"data":{"values":[{"phi":-0.311,"phi2":-0.24,"d":0.1267}]},"mark":{"type":"rule","color":"#111111","strokeWidth":2},"encoding":{"x2":{"field":"phi2"}}},
{"data":{"values":[{"phi":-0.277,"d":0.1267}]},"mark":{"type":"point","shape":"square","size":40,"color":"#111111","filled":true,"opacity":1},"encoding":{}},
{"data":{"values":[{"phi":-0.2285,"d":0.137,"s":"LP Hype'd"}]},"mark":{"type":"text","font":"Liberation Sans","fontSize":15,"align":"left","baseline":"alphabetic","color":"#e41e26"},"encoding":{"text":{"field":"s"}}},
{"data":{"values":[{"phi":-0.2285,"d":0.1203,"s":"Control"}]},"mark":{"type":"text","font":"Liberation Sans","fontSize":15,"align":"left","baseline":"alphabetic","color":"#111111"},"encoding":{"text":{"field":"s"}}}
]
}
],
"resolve": {"scale": {"x": "independent", "y": "independent"}, "axis": {"x": "independent", "y": "independent"}}
}
